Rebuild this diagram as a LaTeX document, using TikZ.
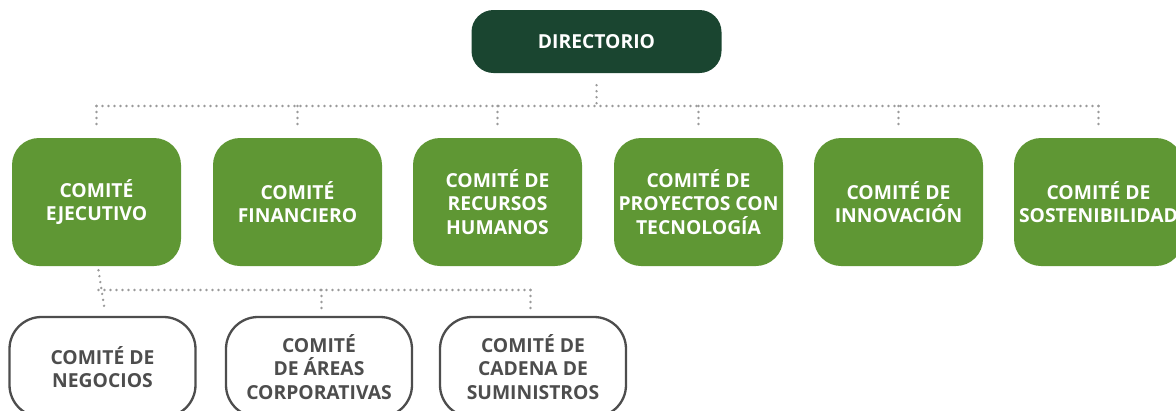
\documentclass[tikz,border=0pt]{standalone}
\usepackage{fontspec}
\setmainfont{Open Sans}
\definecolor{dirgreen}{HTML}{1A4530}
\definecolor{boxgreen}{HTML}{5F9734}
\definecolor{txtgray}{HTML}{4D4D4D}
\definecolor{dotgray}{HTML}{9A9A9A}
\begin{document}
\begin{tikzpicture}[x=1pt,y=1pt,
  lbl/.style={font=\bfseries\fontsize{19.3}{23.5}\selectfont, align=center, inner sep=0pt},
  dirbox/.style={lbl, fill=dirgreen, text=white, rounded corners=22pt, minimum width=250pt, minimum height=63pt},
  combox/.style={lbl, fill=boxgreen, text=white, rounded corners=27pt, minimum width=169pt, minimum height=128pt},
  subbox/.style={lbl, draw=txtgray, line width=2.3pt, fill=white, text=txtgray, rounded corners=32pt, minimum width=186pt, minimum height=100pt},
  dotline/.style={draw=dotgray, line width=2.6pt, line cap=round, dash pattern=on 0pt off 6pt}
]
\useasboundingbox (0,0) rectangle (1176,-410);
\clip (0,0) rectangle (1176,-410);

\node[dirbox] (dir) at (596.5,-41.5) {DIRECTORIO};

\node[combox] (c1) at (96.5,-202) {COMITÉ\\EJECUTIVO};
\node[combox] (c2) at (297.5,-202) {COMITÉ\\FINANCIERO};
\node[combox] (c3) at (497.5,-202) {COMITÉ DE\\RECURSOS\\HUMANOS};
\node[combox] (c4) at (698.5,-202) {COMITÉ DE\\PROYECTOS CON\\TECNOLOGÍA};
\node[combox] (c5) at (898.5,-202) {COMITÉ DE\\INNOVACIÓN};
\node[combox] (c6) at (1098.5,-202) {COMITÉ DE\\SOSTENIBILIDAD};

\node[subbox] (s1) at (102.5,-367) {COMITÉ DE\\NEGOCIOS};
\node[subbox] (s2) at (319,-367) {COMITÉ\\DE ÁREAS\\CORPORATIVAS};
\node[subbox] (s3) at (533,-367) {COMITÉ DE\\CADENA DE\\SUMINISTROS};

\coordinate (bus) at (596.5,-106);
\coordinate (sbus) at (98.5,-290);

% top bus
\draw[dotline] ([yshift=-12pt]dir.south) -- (dir.south |- bus);
\draw[dotline] (c1.north |- bus) -- (c6.north |- bus);
\foreach \n in {c1,c2,c3,c4,c5,c6}{
  \draw[dotline] (\n.north |- bus) -- ([yshift=10pt]\n.north);
}
% sub bus
\draw[dotline] ([xshift=2pt,yshift=-4pt]c1.south) -- ([xshift=2pt,yshift=7pt]s1.north);
\draw[dotline] (sbus) -- ([xshift=-2.5pt]s3.north |- sbus);
\draw[dotline] ([xshift=2.5pt]s2.north |- sbus) -- ([xshift=2.5pt,yshift=7pt]s2.north);
\draw[dotline] ([xshift=-2.5pt]s3.north |- sbus) -- ([xshift=-2.5pt,yshift=7pt]s3.north);
\end{tikzpicture}
\end{document}
